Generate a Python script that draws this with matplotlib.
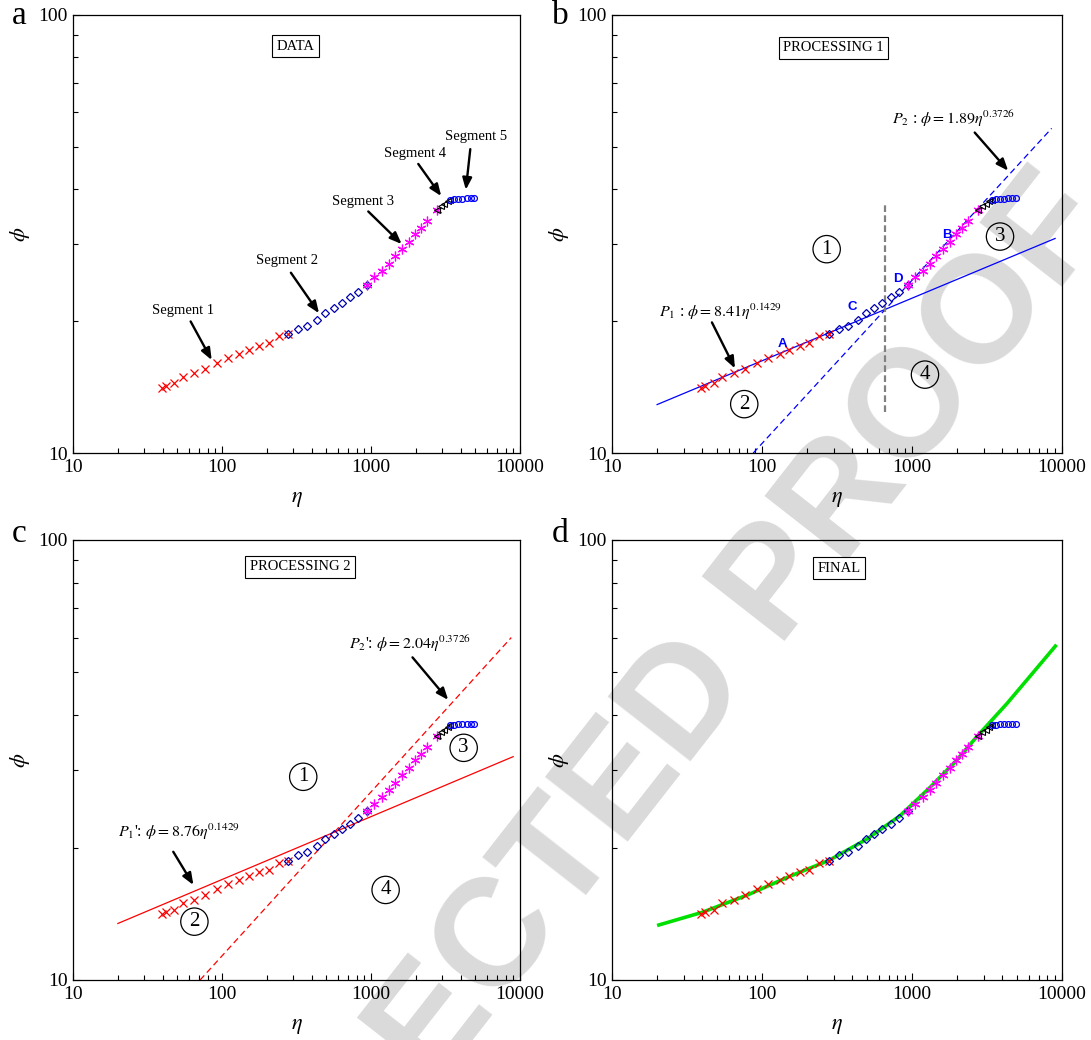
import matplotlib
matplotlib.use('Agg')
import matplotlib.pyplot as plt
from matplotlib.ticker import LogLocator, NullFormatter

plt.rcParams['font.family'] = ['Liberation Serif', 'DejaVu Serif']
plt.rcParams['mathtext.fontset'] = 'stix'

# ---------------- data ----------------
seg1_eta = [39.4, 41.9, 47.6, 54.5, 65.2, 77.3, 92.1, 110, 131, 152, 178, 207, 241, 279]
seg1_phi = [14.1, 14.25, 14.45, 14.94, 15.2, 15.58, 16.08, 16.49, 16.87, 17.2, 17.57, 17.81, 18.48, 18.67]
seg2_eta = [279, 325, 374, 434, 491, 562, 636, 723, 818, 935]
seg2_phi = [18.67, 19.2, 19.54, 20.14, 20.86, 21.45, 21.99, 22.65, 23.37, 24.17]
seg3_eta = [935, 1047, 1180, 1315, 1457, 1614, 1791, 1964, 2156, 2377, 2761]
seg3_phi = [24.17, 25.16, 26.06, 27.0, 28.1, 29.3, 30.36, 31.6, 32.63, 33.86, 35.93]
seg4_eta = [2761, 2937, 3105, 3272, 3390]
seg4_phi = [35.93, 36.56, 37.08, 37.53, 37.9]
seg5_eta = [3390, 3606, 3854, 4100, 4386, 4667, 4911]
seg5_phi = [37.9, 38.0, 38.08, 38.1, 38.2, 38.2, 38.2]

# fitted lines (end points)
p1_eta = [20, 9000]
p1_phi = [12.90, 30.89]
p2_eta = [87.5, 8530]
p2_phi = [10.0, 55.1]
p1c_eta = [20, 9000]
p1c_phi = [13.44, 32.18]
p2c_eta = [71.3, 8740]
p2c_phi = [10.0, 60.0]
split_eta = [664, 664]
split_phi = [12.4, 37.4]

# final fitted curve (panel d)
green_eta = [20, 40, 80, 150, 280, 500, 830, 1320, 1970, 2700, 4300, 6400, 9200]
green_phi = [13.3, 14.25, 15.6, 17.15, 18.7, 20.9, 23.6, 27.4, 31.5, 35.7, 42.5, 49.9, 57.8]

xtick_vals = [10, 100, 1000, 10000]
xtick_labels = ['10', '100', '1000', '10000']
ytick_vals = [10, 100]
ytick_labels = ['10', '100']

# ---------------- figure ----------------
fig = plt.figure(figsize=(10.91, 10.40), dpi=100)

# watermark (behind everything)
fig.text(0.543, 0.232, 'CORRECTED PROOF', fontsize=110, color='#dadada',
         family='Liberation Sans', fontweight='bold', rotation=52,
         rotation_mode='anchor', ha='center', va='center_baseline', zorder=-10)

axa = fig.add_axes([0.0669, 0.5644, 0.4097, 0.4212])
axb = fig.add_axes([0.5609, 0.5644, 0.4125, 0.4212])
axc = fig.add_axes([0.0669, 0.0577, 0.4097, 0.4231])
axd = fig.add_axes([0.5609, 0.0577, 0.4125, 0.4231])


def style(ax):
    ax.set_facecolor('none')
    ax.set_xscale('log')
    ax.set_yscale('log')
    ax.set_xlim(10, 10000)
    ax.set_ylim(10, 100)
    ax.set_xticks(xtick_vals)
    ax.set_xticklabels(xtick_labels)
    ax.set_yticks(ytick_vals)
    ax.set_yticklabels(ytick_labels)
    ax.xaxis.set_minor_locator(LogLocator(base=10, subs=range(2, 10)))
    ax.yaxis.set_minor_locator(LogLocator(base=10, subs=range(2, 10)))
    ax.xaxis.set_minor_formatter(NullFormatter())
    ax.yaxis.set_minor_formatter(NullFormatter())
    ax.tick_params(which='both', direction='in', top=False, right=False,
                   labelsize=14, width=0.8)
    ax.tick_params(which='major', length=5, pad=4)
    ax.tick_params(which='minor', length=3.5)
    for s in ax.spines.values():
        s.set_linewidth(0.9)
    ax.set_xlabel(r'$\eta$', fontsize=16)
    ax.set_ylabel(r'$\phi$', fontsize=16)
    ax.xaxis.set_label_coords(0.5, -0.085)
    ax.yaxis.set_label_coords(-0.092, 0.5)


def plot_data(ax):
    ax.plot(seg1_eta, seg1_phi, ls='none', marker='x', color='red', ms=6, mew=0.9, zorder=3)
    ax.plot(seg2_eta, seg2_phi, ls='none', marker='D', mfc='none', mec='#0000b0', ms=3.6, mew=0.9, zorder=3)
    ax.plot(seg3_eta, seg3_phi, ls='none', marker=(6, 2, 0), color='magenta', ms=7, mew=0.9, zorder=3)
    ax.plot(seg4_eta, seg4_phi, ls='none', marker='<', mfc='none', mec='black', ms=5, mew=0.8, zorder=3)
    ax.plot(seg5_eta, seg5_phi, ls='none', marker='o', mfc='none', mec='blue', ms=4.2, mew=0.9, zorder=3)


def arrow(ax, tail, head):
    ax.annotate('', xy=head, xytext=tail,
                arrowprops=dict(arrowstyle='-|>,head_length=0.7,head_width=0.28',
                                color='black', lw=1.7, shrinkA=0, shrinkB=0))


def title_box(ax, x, y, s):
    ax.text(x, y, s, transform=ax.transAxes, ha='center', va='center', fontsize=10.5,
            bbox=dict(boxstyle='square,pad=0.3', fc='white', ec='black', lw=0.8))


def circ(ax, x, y, s):
    ax.text(x, y, s, ha='center', va='center', fontsize=15,
            bbox=dict(boxstyle='circle,pad=0.2', fc='none', ec='black', lw=0.9))


for ax in (axa, axb, axc, axd):
    style(ax)

# ---- panel a ----
plot_data(axa)
title_box(axa, 0.497, 0.929, 'DATA')
seg_labels = [
    ('Segment 1', (55, 21.1), (61.6, 19.97), (85.3, 16.3)),
    ('Segment 2', (274, 27.5), (290, 25.8), (448, 20.85)),
    ('Segment 3', (889, 37.6), (959, 35.6), (1607, 30.0)),
    ('Segment 4', (1970, 48.4), (2077, 45.7), (2960, 38.6)),
    ('Segment 5', (5100, 52.8), (4640, 49.4), (4330, 39.9)),
]
for s, tpos, tail, head in seg_labels:
    axa.text(tpos[0], tpos[1], s, ha='center', va='center', fontsize=10.5)
    arrow(axa, tail, head)

# ---- panel b ----
axb.plot(p1_eta, p1_phi, color='blue', lw=0.9, zorder=2)
axb.plot(p2_eta, p2_phi, color='blue', lw=0.9, ls=(0, (5, 3)), zorder=2)
axb.plot(split_eta, split_phi, color='gray', lw=1.6, ls=(0, (3, 1.5)), zorder=2)
plot_data(axb)
title_box(axb, 0.493, 0.925, 'PROCESSING 1')
axb.text(53.3, 21.05, r'$P_1$ : $\phi = 8.41\eta^{0.1429}$', ha='center', va='center', fontsize=11.5)
arrow(axb, (46.4, 19.87), (66.1, 15.6))
axb.text(1880, 57.9, r'$P_2$ : $\phi = 1.89\eta^{0.3726}$', ha='center', va='center', fontsize=11.5)
arrow(axb, (2620, 53.9), (4380, 44.1))
for s, x, y in [('A', 137.6, 17.7), ('C', 402, 21.5), ('D', 810, 25.0), ('B', 1703, 31.5)]:
    axb.text(x, y, s, color='blue', fontsize=9.5, fontweight='bold', family='Liberation Sans',
             ha='center', va='center')
circ(axb, 270, 29.2, '1')
circ(axb, 76.2, 12.93, '2')
circ(axb, 3863, 31.2, '3')
circ(axb, 1221, 15.1, '4')

# ---- panel c ----
axc.plot(p1c_eta, p1c_phi, color='red', lw=0.9, zorder=2)
axc.plot(p2c_eta, p2c_phi, color='red', lw=0.9, ls=(0, (5, 3)), zorder=2)
plot_data(axc)
title_box(axc, 0.508, 0.939, 'PROCESSING 2')
axc.text(51.5, 21.7, r"$P_1$': $\phi = 8.76\eta^{0.1429}$", ha='center', va='center', fontsize=11.5)
arrow(axc, (47.1, 19.56), (64.3, 16.44))
axc.text(1817, 58.0, r"$P_2$': $\phi = 2.04\eta^{0.3726}$", ha='center', va='center', fontsize=11.5)
arrow(axc, (1900, 54.1), (3300, 43.3))
circ(axc, 351, 28.96, '1')
circ(axc, 65.3, 13.57, '2')
circ(axc, 4190, 33.7, '3')
circ(axc, 1254, 16.02, '4')

# ---- panel d ----
axd.plot(green_eta, green_phi, color='#00e000', lw=2.6, zorder=2, solid_capstyle='butt',
         solid_joinstyle='round')
plot_data(axd)
title_box(axd, 0.504, 0.936, 'FINAL')

# panel letters
for s, x, y in [('a', 0.011, 0.977), ('b', 0.506, 0.977), ('c', 0.011, 0.479), ('d', 0.506, 0.479)]:
    fig.text(x, y, s, fontsize=24, ha='left', va='baseline')

fig.savefig('out.png', dpi=100)
